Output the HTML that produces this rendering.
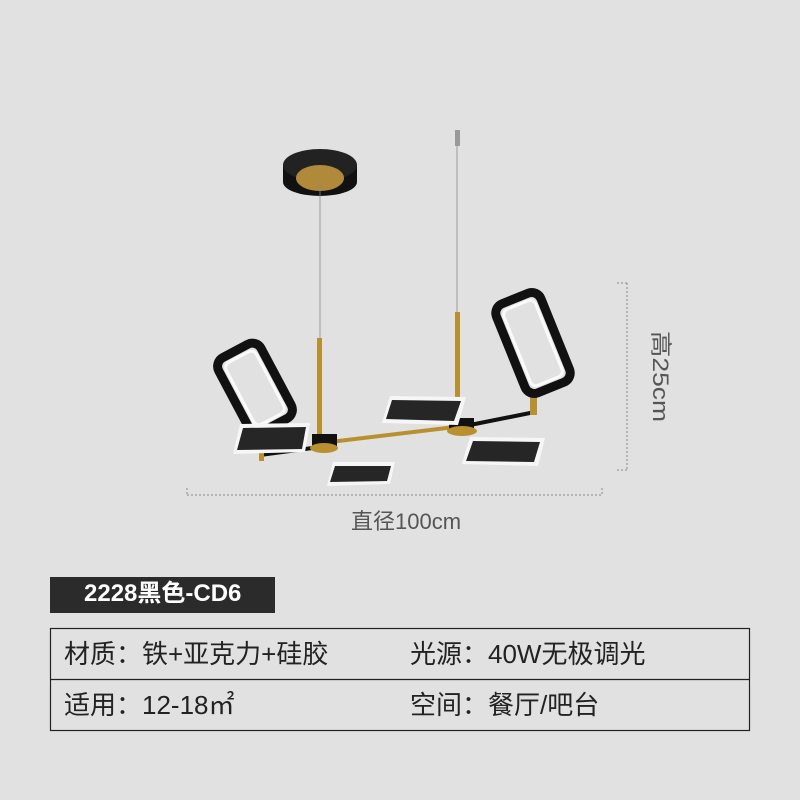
<!DOCTYPE html>
<html><head><meta charset="utf-8"><style>
body{margin:0;width:800px;height:800px;background:#e1e1e1;overflow:hidden;position:relative;font-family:"Liberation Sans","Noto Sans CJK SC",sans-serif}
.t{position:absolute;color:#222;font-size:26px;white-space:nowrap;line-height:1}
</style></head><body>
<svg width="800" height="800" style="position:absolute;left:0;top:0">
<g stroke="#888" stroke-width="1" stroke-dasharray="2,2" fill="none">
<line x1="187" y1="495" x2="602" y2="495"/><line x1="187" y1="488" x2="187" y2="495"/><line x1="602" y1="488" x2="602" y2="495"/>
<line x1="627" y1="283" x2="627" y2="470"/><line x1="617" y1="283" x2="627" y2="283"/><line x1="617" y1="470" x2="627" y2="470"/>
</g>
<ellipse cx="320" cy="182" rx="37" ry="14" fill="#111"/>
<rect x="283" y="165" width="74" height="17" fill="#111"/>
<ellipse cx="320" cy="165" rx="37" ry="16" fill="#222"/>
<ellipse cx="320" cy="178" rx="24" ry="13" fill="#b08a3a"/>
<rect x="455" y="130" width="5" height="16" fill="#999"/>
<line x1="320" y1="182" x2="320" y2="340" stroke="#888" stroke-width="0.8"/>
<line x1="457" y1="146" x2="457" y2="314" stroke="#888" stroke-width="0.8"/>
<rect x="317" y="338" width="5" height="104" fill="#b8902f"/>
<rect x="455" y="312" width="5" height="112" fill="#b8902f"/>
<line x1="330" y1="442" x2="455" y2="427" stroke="#b8902f" stroke-width="4"/>
<line x1="260" y1="455" x2="320" y2="447" stroke="#111" stroke-width="4"/>
<line x1="470" y1="425" x2="535" y2="412" stroke="#111" stroke-width="4"/>
<rect x="259" y="449" width="5" height="12" fill="#b8902f"/>
<rect x="530" y="395" width="7" height="20" fill="#b8902f"/>
<rect x="312" y="434" width="25" height="14" fill="#111"/>
<ellipse cx="324" cy="448" rx="14" ry="5" fill="#b8902f"/>
<rect x="449" y="418" width="25" height="13" fill="#111"/>
<ellipse cx="462" cy="431" rx="15" ry="5" fill="#b8902f"/>
<g transform="translate(255,388) rotate(-28)">
<rect x="-24" y="-42" width="48" height="84" rx="10" fill="none" stroke="#111" stroke-width="9"/>
<rect x="-17" y="-35" width="34" height="70" rx="6" fill="none" stroke="#fafafa" stroke-width="3"/>
</g>
<g transform="translate(533,343) rotate(-22)">
<rect x="-24" y="-48" width="48" height="96" rx="10" fill="none" stroke="#111" stroke-width="9"/>
<rect x="-17" y="-41" width="34" height="82" rx="6" fill="none" stroke="#fafafa" stroke-width="3"/>
</g>
<g fill="#f6f6f6"><path d="M240 424 L310 423 L305 452 L233 454 Z"/><path d="M333 462 L395 462 L390 484 L327 486 Z"/><path d="M390 396 L466 397 L458 425 L382 423 Z"/><path d="M470 437 L545 438 L538 466 L462 464 Z"/></g>
<g fill="#262626"><path d="M243 428 L306 427 L302 449 L237 450 Z"/><path d="M335 466 L391 466 L387 481 L330 482 Z"/><path d="M392 400 L461 401 L454 421 L386 419 Z"/><path d="M473 441 L540 442 L534 462 L466 461 Z"/></g>
<rect x="50" y="577" width="225" height="36" fill="#2b2b2b"/>
<rect x="50.5" y="628.5" width="699" height="102" fill="none" stroke="#222" stroke-width="1.2"/>
<line x1="50" y1="679.5" x2="750" y2="679.5" stroke="#222" stroke-width="1.2"/>
</svg>
<div class="t" style="left:351px;top:511px;font-size:22px;color:#555">直径100cm</div>
<div class="t" style="top:331px;left:671px;font-size:22px;color:#555;transform:rotate(90deg) scaleX(1.2);transform-origin:0 0">高25cm</div>
<div class="t" style="left:84px;top:582px;color:#fff;font-weight:bold;font-size:24px">2228黑色-CD6</div>
<div class="t" style="left:64px;top:641px">材质：铁+亚克力+硅胶</div>
<div class="t" style="left:410px;top:641px">光源：40W无极调光</div>
<div class="t" style="left:64px;top:692px">适用：12-18㎡</div>
<div class="t" style="left:410px;top:692px">空间：餐厅/吧台</div>
</body></html>
